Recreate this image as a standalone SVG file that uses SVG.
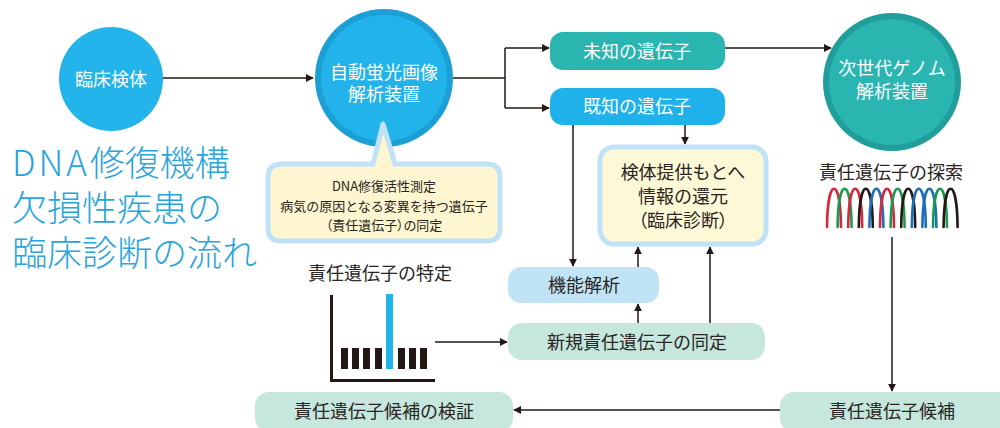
<svg xmlns="http://www.w3.org/2000/svg" width="1000" height="428" viewBox="0 0 1000 428">
<style>
text{font-family:"Noto Sans CJK JP","Noto Sans",sans-serif;text-anchor:middle}
.w{fill:#ffffff;font-size:18px}
.d{fill:#2a2422;font-size:18px}
.s{fill:#2a2422;font-size:13px}
.t{fill:#2aa4dc;font-size:35px;text-anchor:start;font-weight:300}
.ln{stroke:#231815;stroke-width:1.5;fill:none}
.ar{stroke:#231815;stroke-width:1.5;fill:none;marker-end:url(#ah)}
.wave{fill:none;stroke-width:2.6;stroke-linecap:round}
.palt{font-feature-settings:"palt"}
</style>
<defs>
<marker id="ah" viewBox="0 0 10 10" refX="9" refY="5" markerWidth="8" markerHeight="8" markerUnits="userSpaceOnUse" orient="auto">
<path d="M0,0 L10,5 L0,10 Z" fill="#231815"/>
</marker>
</defs>

<g id="title">
<text class="t" x="12" y="176"><tspan letter-spacing="3">DNA</tspan>修復機構</text>
<text class="t" x="12" y="221">欠損性疾患の</text>
<text class="t" x="12" y="266">臨床診断の流れ</text>
</g>

<g id="connectors">
<line class="ar" x1="163" y1="78" x2="313" y2="78"/>
<polyline class="ln" points="453,78 505,78"/>
<line class="ln" x1="505" y1="48" x2="505" y2="108"/>
<line class="ar" x1="505" y1="48" x2="549" y2="48"/>
<line class="ar" x1="505" y1="108" x2="549" y2="108"/>
<line class="ar" x1="725" y1="48" x2="831" y2="48"/>
<line class="ar" x1="573" y1="125" x2="573" y2="266"/>
<line class="ar" x1="685" y1="125" x2="685" y2="144"/>
<line class="ar" x1="638" y1="267" x2="638" y2="247"/>
<line class="ar" x1="638" y1="323" x2="638" y2="304"/>
<line class="ar" x1="710" y1="323" x2="710" y2="247"/>
<line class="ar" x1="435" y1="342" x2="507" y2="342"/>
<line class="ar" x1="892" y1="237" x2="892" y2="391"/>
<line class="ar" x1="780" y1="410" x2="514" y2="410"/>
</g>

<g id="node-rinsho-kentai">
<circle cx="111" cy="79" r="52" fill="#22b4ea"/>
<text class="w" x="111" y="86">臨床検体</text>
</g>

<g id="node-jidou">
<circle cx="384" cy="78" r="69" fill="#1b9fd4"/>
<circle cx="384" cy="78" r="63" fill="#22b3ea"/>
<text class="w" x="384" y="79">自動蛍光画像</text>
<text class="w" x="384" y="101">解析装置</text>
</g>

<g id="node-bubble">
<path d="M282 164 H373 L383 124 L395 164 H487 Q500 164 500 177 V228 Q500 241 487 241 H281 Q268 241 268 228 V177 Q268 164 282 164 Z" fill="#fdf6d0" stroke="#bfe2f6" stroke-width="5" stroke-linejoin="round"/>
<text class="s" x="384" y="191">DNA修復活性測定</text>
<text class="s" x="384" y="211">病気の原因となる変異を持つ遺伝子</text>
<text class="s palt" x="384" y="230">（責任遺伝子）の同定</text>
</g>

<g id="node-tokutei">
<text class="d" x="380" y="280">責任遺伝子の特定</text>
<g fill="#231815">
<rect x="330" y="295" width="3" height="87"/>
<rect x="330" y="379" width="105" height="3"/>
<rect x="341" y="348" width="7" height="21"/>
<rect x="352" y="348" width="7" height="21"/>
<rect x="363" y="348" width="7" height="21"/>
<rect x="375" y="348" width="7" height="21"/>
<rect x="398" y="348" width="7" height="21"/>
<rect x="409" y="348" width="7" height="21"/>
<rect x="420" y="348" width="7" height="21"/>
</g>
<rect x="386" y="294" width="7" height="75" fill="#22b3ea"/>
</g>

<g id="node-michi">
<rect x="550" y="32" width="175" height="38" rx="13" fill="#2bb5b0"/>
<text class="w" x="637" y="58">未知の遺伝子</text>
</g>

<g id="node-kichi">
<rect x="550" y="88" width="175" height="37" rx="13" fill="#1fb1ea"/>
<text class="w" x="637" y="113">既知の遺伝子</text>
</g>

<g id="node-jisedai">
<circle cx="892" cy="82" r="69" fill="#1f9e9b"/>
<circle cx="892" cy="82" r="63" fill="#2bb5b1"/>
<text class="w" x="892" y="75">次世代ゲノム</text>
<text class="w" x="892" y="98">解析装置</text>
</g>

<g id="node-kangen">
<rect x="600" y="147" width="166" height="97" rx="14" fill="#fdf8d6" stroke="#bfe2f6" stroke-width="5"/>
<text class="d" x="683" y="179">検体提供もとへ</text>
<text class="d" x="683" y="203">情報の還元</text>
<text class="d palt" x="683" y="227">（臨床診断）</text>
</g>

<g id="node-tansaku">
<text class="d" x="891" y="179">責任遺伝子の探索</text>
<path class="wave" stroke="#d7263d" d="M827 227 C827.5 176 840.5 176 841 227"/>
<path class="wave" stroke="#1a9a50" d="M837.6 227 C838.1 176 851.1 176 851.6 227"/>
<path class="wave" stroke="#d7263d" d="M848.2 227 C848.7 176 861.7 176 862.2 227"/>
<path class="wave" stroke="#231815" d="M858.8 227 C859.3 176 872.3 176 872.8 227"/>
<path class="wave" stroke="#1d6fb8" d="M869.4 227 C869.9 176 882.9 176 883.4 227"/>
<path class="wave" stroke="#d7263d" d="M880 227 C880.5 176 893.5 176 894 227"/>
<path class="wave" stroke="#1a9a50" d="M890.6 227 C891.1 176 904.1 176 904.6 227"/>
<path class="wave" stroke="#231815" d="M901.2 227 C901.7 176 914.7 176 915.2 227"/>
<path class="wave" stroke="#1d6fb8" d="M911.8 227 C912.3 176 925.3 176 925.8 227"/>
<path class="wave" stroke="#1d6fb8" d="M922.4 227 C922.9 176 935.9 176 936.4 227"/>
<path class="wave" stroke="#1a9a50" d="M933 227 C933.5 176 946.5 176 947 227"/>
<path class="wave" stroke="#231815" d="M943.6 227 C944.1 176 957.1 176 957.6 227"/>
</g>

<g id="node-kinou">
<rect x="508" y="267" width="151" height="36" rx="13" fill="#c0e4f6"/>
<text class="d" x="584" y="292">機能解析</text>
</g>

<g id="node-shinki">
<rect x="508" y="323" width="257" height="37" rx="14" fill="#c5e7dd"/>
<text class="d" x="637" y="349" font-size="19">新規責任遺伝子の同定</text>
</g>

<g id="node-kenshou">
<rect x="255" y="392" width="258" height="40" rx="14" fill="#c5e7dd"/>
<text class="d" x="384" y="418" font-size="19">責任遺伝子候補の検証</text>
</g>

<g id="node-kouho">
<rect x="780" y="392" width="240" height="40" rx="14" fill="#c5e7dd"/>
<text class="d" x="892" y="418">責任遺伝子候補</text>
</g>
</svg>
